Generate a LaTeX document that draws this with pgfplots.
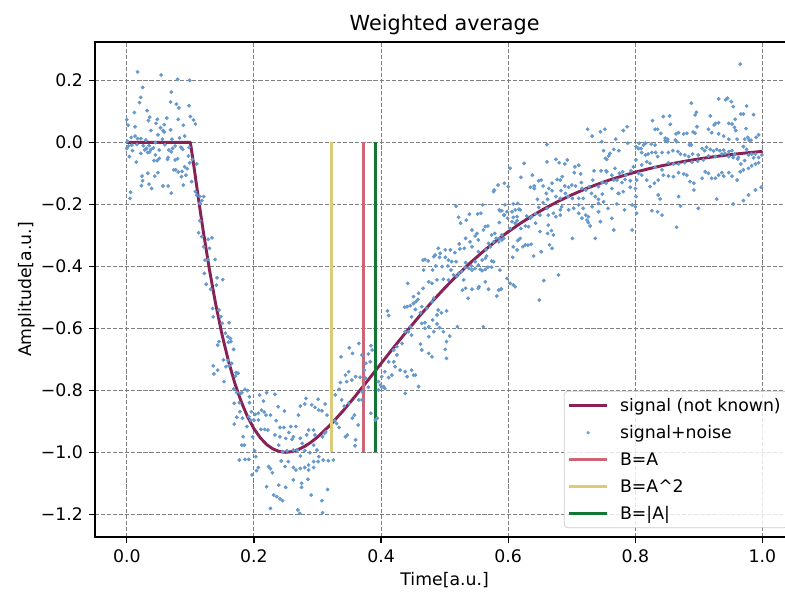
\documentclass[border=0pt]{standalone}
\usepackage{fontspec}
\setmainfont{DejaVu Sans}
\usepackage{pgfplots}
\pgfplotsset{compat=1.18}
\definecolor{wine}{HTML}{882255}
\definecolor{ptblue}{HTML}{6699CC}
\definecolor{rose}{HTML}{CC6677}
\definecolor{sand}{HTML}{DDCC77}
\definecolor{tgreen}{HTML}{117733}
\pgfplotsset{
  linelegend/.style={legend image code/.code={\draw[##1] (0pt,0pt) -- (22pt,0pt);}},
  marklegend/.style={legend image code/.code={\draw[mark repeat=2,mark phase=2,##1] plot coordinates {(0pt,0pt) (11pt,0pt) (22pt,0pt)};}},
}
\begin{document}
\begin{tikzpicture}
\begin{axis}[
  scale only axis, width=402.78bp, height=285.12bp,
  xmin=-0.05, xmax=1.05, ymin=-1.2732, ymax=0.3235,
  xtick={0,0.2,0.4,0.6,0.8,1}, xticklabels={0.0,0.2,0.4,0.6,0.8,1.0},
  ytick={-1.2,-1,-0.8,-0.6,-0.4,-0.2,0,0.2},
  yticklabels={−1.2,−1.0,−0.8,−0.6,−0.4,−0.2,0.0,0.2},
  tick align=outside, xtick pos=bottom, ytick pos=left,
  major tick length=3.5pt,
  tick style={black, line width=0.8pt},
  axis line style={black, line width=0.8pt},
  grid=major,
  grid style={black!50, line width=0.5pt, dash pattern=on 2.4pt off 1.1pt},
  ticklabel style={font=\fontsize{10}{12}\selectfont},
  title={Weighted average},
  every axis title shift=0pt,
  title style={font=\fontsize{12}{14}\selectfont, at={(axis description cs:0.5,1.0242)}, anchor=base},
  xlabel={Time[a.u.]},
  xlabel style={font=\fontsize{10}{12}\selectfont, at={(axis description cs:0.5,-0.0989)}, anchor=base},
  ylabel={Amplitude[a.u.]},
  ylabel style={font=\fontsize{10}{12}\selectfont, at={(axis description cs:-0.0901,0.5)}, anchor=base, rotate=0},
  legend cell align=left,
  legend style={at={(0.991,0.018)}, anchor=south east, draw=black!20, rounded corners=2pt,
    fill=white, fill opacity=0.8, draw opacity=1, text opacity=1,
    font=\fontsize{10}{12}\selectfont, inner xsep=2pt, inner ysep=1.5pt, row sep=1.6pt,
    /tikz/every odd column/.append style={column sep=4.6pt}},
]
\addlegendimage{wine, line width=1.7pt, linelegend}
\addlegendentry{\strut signal (not known)}
\addlegendimage{ptblue, only marks, mark=*, mark size=0.7pt, mark options={draw=none}, marklegend}
\addlegendentry{\strut signal+noise}
\addlegendimage{rose, line width=1.7pt, linelegend}
\addlegendentry{\strut B=A}
\addlegendimage{sand, line width=1.7pt, linelegend}
\addlegendentry{\strut B=A\textasciicircum 2}
\addlegendimage{tgreen, line width=1.7pt, linelegend}
\addlegendentry{\strut B=|A|}

% signal + noise
\addplot[forget plot, ptblue, only marks, mark=*, mark size=0.9pt, mark options={draw=none, fill=ptblue}] coordinates {
(0.017,0.227)(0.054,0.217)(0.080,0.203)(0.099,0.200)(0.025,0.177)(0.070,0.162)(0.022,0.145)(0.069,0.130)(0.020,0.128)(0.078,0.123)
(0.082,0.111)(0.098,0.118)(0.032,0.102)(0.012,0.096)(0.036,0.081)(0.048,0.074)(0.034,0.070)(0.063,0.078)(0.081,0.074)(0.100,0.083)
(0.000,0.073)(0.105,0.072)(0.046,0.061)(0.059,0.057)(0.108,0.059)(0.002,0.055)(0.013,0.050)(0.053,0.047)(0.089,0.055)(0.057,0.038)
(0.038,0.038)(0.069,0.040)(0.091,0.020)(0.059,0.033)(0.049,0.024)(0.007,0.016)(0.013,0.020)(0.017,0.012)(0.022,0.012)(0.030,0.007)
(0.001,0.003)(0.056,0.010)(0.083,0.014)(0.071,0.010)(0.003,-0.012)(0.008,-0.009)(0.016,-0.007)(0.026,-0.011)(0.035,-0.011)(0.045,-0.001)
(0.060,-0.008)(0.076,-0.012)(0.085,-0.016)(0.098,-0.016)(0.000,-0.020)(0.009,-0.027)(0.028,-0.025)(0.031,-0.020)(0.038,-0.023)(0.042,-0.018)
(0.051,-0.025)(0.066,-0.025)(0.072,-0.020)(0.086,-0.018)(0.088,-0.023)(0.070,-0.031)(0.036,-0.031)(0.033,-0.033)(0.022,-0.036)(0.004,-0.046)
(0.045,-0.041)(0.080,-0.053)(0.097,-0.044)(0.064,-0.055)(0.043,-0.059)(0.048,-0.059)(0.051,-0.052)(0.065,-0.049)(0.076,-0.057)(0.103,-0.055)
(0.015,-0.064)(0.099,-0.066)(0.110,-0.070)(0.091,-0.079)(0.095,-0.085)(0.087,-0.094)(0.074,-0.089)(0.077,-0.089)(0.081,-0.096)(0.049,-0.098)
(0.033,-0.100)(0.024,-0.109)(0.044,-0.109)(0.093,-0.106)(0.086,-0.111)(0.025,-0.124)(0.023,-0.140)(0.035,-0.135)(0.057,-0.141)(0.065,-0.141)
(0.039,-0.149)(0.006,-0.161)(0.005,-0.181)(0.070,-0.164)
(0.089,-0.138)(0.102,-0.127)(0.108,-0.159)(0.110,-0.170)(0.115,-0.175)(0.121,-0.175)(0.118,-0.188)(0.115,-0.197)(0.115,-0.253)(0.113,-0.292)
(0.118,-0.304)(0.128,-0.313)(0.134,-0.308)(0.121,-0.337)(0.130,-0.342)(0.123,-0.380)(0.128,-0.378)(0.139,-0.378)(0.122,-0.423)(0.125,-0.458)
(0.132,-0.474)(0.142,-0.437)(0.151,-0.443)(0.141,-0.461)(0.135,-0.536)(0.136,-0.563)(0.145,-0.541)(0.148,-0.563)(0.150,-0.584)(0.161,-0.582)
(0.155,-0.616)(0.159,-0.627)(0.163,-0.633)(0.164,-0.643)(0.145,-0.643)(0.143,-0.654)(0.160,-0.645)(0.168,-0.668)(0.152,-0.702)(0.159,-0.704)
(0.165,-0.713)(0.161,-0.721)(0.156,-0.724)(0.136,-0.721)(0.143,-0.735)(0.137,-0.747)(0.172,-0.743)(0.175,-0.745)(0.153,-0.772)(0.171,-0.754)
(0.168,-0.796)(0.173,-0.807)(0.181,-0.808)(0.186,-0.797)(0.190,-0.801)(0.193,-0.821)(0.179,-0.810)(0.169,-0.842)(0.177,-0.840)(0.173,-0.887)
(0.169,-0.909)(0.178,-0.869)(0.182,-0.890)(0.193,-0.840)(0.196,-0.869)(0.195,-0.896)(0.202,-0.878)(0.207,-0.874)(0.209,-0.815)(0.220,-0.808)
(0.233,-0.813)(0.215,-0.835)(0.238,-0.853)(0.248,-0.867)(0.212,-0.864)(0.216,-0.870)(0.219,-0.880)(0.226,-0.880)(0.192,-0.885)(0.200,-0.896)
(0.207,-0.896)(0.189,-0.917)(0.211,-0.926)(0.217,-0.926)(0.222,-0.928)(0.198,-0.950)(0.183,-0.950)(0.181,-0.977)(0.185,-0.977)(0.177,-1.025)
(0.186,-1.023)(0.192,-1.023)(0.201,-0.995)(0.203,-1.014)(0.207,-1.049)(0.204,-1.059)(0.197,-1.073)(0.223,-1.046)(0.226,-1.053)(0.229,-1.066)
(0.235,-0.898)(0.241,-0.920)(0.247,-0.920)(0.258,-0.917)(0.266,-0.917)(0.241,-0.950)(0.250,-0.955)(0.262,-0.950)(0.255,-0.936)(0.260,-0.958)
(0.233,-0.944)(0.239,-0.977)(0.245,-0.998)(0.252,-0.995)(0.262,-0.993)(0.243,-1.028)(0.254,-1.030)(0.249,-1.046)(0.262,-1.049)(0.266,-1.057)
(0.220,-1.111)(0.239,-1.106)(0.250,-1.113)(0.262,-1.089)(0.231,-1.138)(0.236,-1.143)(0.241,-1.150)(0.245,-1.156)(0.226,-1.181)(0.269,-1.186)
(0.270,-0.880)(0.268,-0.993)
(0.273,-0.851)(0.280,-0.844)(0.282,-0.826)(0.291,-0.847)(0.296,-0.855)(0.301,-0.829)(0.302,-0.864)(0.307,-0.866)(0.312,-0.844)(0.315,-0.880)
(0.311,-0.939)(0.313,-0.934)(0.308,-0.950)(0.296,-0.944)(0.294,-0.928)(0.286,-0.928)(0.283,-0.944)(0.273,-0.955)(0.276,-0.971)(0.294,-0.977)
(0.299,-0.993)(0.280,-0.995)(0.288,-1.001)(0.273,-1.012)(0.302,-1.014)(0.309,-1.025)(0.317,-1.027)(0.325,-1.025)(0.294,-1.030)(0.286,-1.041)
(0.280,-1.049)(0.273,-1.052)(0.294,-1.049)(0.275,-1.100)(0.275,-1.113)(0.285,-1.087)(0.301,-1.030)(0.316,-1.120)(0.290,-1.138)(0.307,-1.156)
(0.308,-1.195)(0.272,-1.197)(0.286,-1.057)
(0.410,-0.544)(0.412,-0.559)(0.365,-0.649)(0.350,-0.663)(0.355,-0.681)(0.337,-0.692)(0.370,-0.686)(0.384,-0.656)(0.386,-0.670)(0.380,-0.683)
(0.383,-0.708)(0.376,-0.713)(0.374,-0.735)(0.349,-0.740)(0.354,-0.767)(0.360,-0.756)(0.367,-0.758)(0.344,-0.751)(0.346,-0.772)(0.336,-0.775)
(0.334,-0.797)(0.338,-0.831)(0.342,-0.851)(0.349,-0.842)(0.355,-0.890)(0.358,-0.880)(0.364,-0.912)(0.344,-0.950)(0.347,-0.944)(0.360,-0.960)
(0.359,-0.979)(0.334,-0.920)(0.438,-0.611)(0.443,-0.611)(0.433,-0.649)(0.425,-0.659)(0.420,-0.670)(0.425,-0.686)(0.412,-0.708)(0.420,-0.708)
(0.422,-0.724)(0.430,-0.735)(0.438,-0.740)(0.441,-0.756)(0.406,-0.740)(0.401,-0.756)(0.396,-0.772)(0.412,-0.759)(0.417,-0.751)(0.399,-0.783)
(0.401,-0.790)(0.404,-0.788)(0.406,-0.794)(0.396,-0.799)(0.438,-0.810)(0.384,-0.874)(0.391,-0.896)(0.394,-0.890)(0.380,-0.790)(0.370,-0.804)
(0.376,-0.761)(0.365,-0.831)(0.370,-0.831)(0.330,-0.907)(0.328,-0.815)(0.327,-0.898)
(0.584,-0.138)(0.577,-0.159)(0.578,-0.154)(0.594,-0.132)(0.600,-0.143)(0.518,-0.206)(0.560,-0.202)(0.522,-0.242)(0.525,-0.261)(0.539,-0.232)
(0.534,-0.251)(0.552,-0.231)(0.557,-0.229)(0.608,-0.199)(0.615,-0.197)(0.587,-0.221)(0.590,-0.221)(0.593,-0.235)(0.595,-0.202)(0.611,-0.218)
(0.614,-0.240)(0.606,-0.256)(0.611,-0.261)(0.603,-0.278)(0.586,-0.259)(0.561,-0.283)(0.543,-0.283)(0.551,-0.294)(0.564,-0.272)(0.568,-0.270)
(0.548,-0.302)(0.553,-0.315)(0.540,-0.321)(0.533,-0.310)(0.574,-0.299)(0.579,-0.294)(0.581,-0.310)(0.585,-0.321)(0.590,-0.315)(0.593,-0.310)
(0.577,-0.321)(0.569,-0.326)(0.572,-0.337)(0.565,-0.347)(0.553,-0.353)(0.543,-0.337)(0.531,-0.342)(0.524,-0.344)(0.523,-0.328)(0.516,-0.356)
(0.509,-0.347)(0.501,-0.347)(0.490,-0.342)(0.493,-0.358)(0.485,-0.364)(0.492,-0.371)(0.501,-0.371)(0.506,-0.380)(0.511,-0.385)(0.518,-0.385)
(0.483,-0.369)(0.466,-0.380)(0.469,-0.378)(0.467,-0.412)(0.474,-0.383)(0.481,-0.412)(0.486,-0.399)(0.496,-0.401)(0.505,-0.399)(0.510,-0.412)
(0.514,-0.428)(0.519,-0.433)(0.522,-0.423)(0.527,-0.417)(0.532,-0.403)(0.538,-0.407)(0.543,-0.412)(0.548,-0.407)(0.553,-0.396)(0.556,-0.410)
(0.559,-0.414)(0.564,-0.410)(0.568,-0.403)(0.574,-0.403)(0.577,-0.385)(0.574,-0.383)(0.559,-0.380)(0.564,-0.374)(0.566,-0.367)(0.548,-0.385)
(0.542,-0.399)(0.533,-0.388)(0.530,-0.444)(0.528,-0.477)(0.533,-0.471)(0.537,-0.503)(0.543,-0.474)(0.553,-0.471)(0.554,-0.466)(0.564,-0.450)
(0.569,-0.474)(0.585,-0.477)(0.589,-0.473)(0.598,-0.439)(0.603,-0.455)(0.608,-0.460)(0.611,-0.466)(0.607,-0.371)(0.614,-0.347)(0.582,-0.496)
(0.561,-0.595)(0.520,-0.595)(0.506,-0.444)(0.498,-0.442)(0.488,-0.444)(0.480,-0.455)(0.475,-0.450)(0.466,-0.471)(0.459,-0.487)(0.458,-0.507)
(0.451,-0.498)(0.455,-0.514)(0.451,-0.520)(0.442,-0.455)(0.483,-0.503)(0.480,-0.514)(0.472,-0.536)(0.464,-0.530)(0.462,-0.550)(0.454,-0.539)
(0.448,-0.563)(0.441,-0.530)(0.446,-0.527)(0.437,-0.532)(0.490,-0.541)(0.495,-0.550)(0.503,-0.544)(0.488,-0.557)(0.481,-0.573)(0.488,-0.586)
(0.469,-0.582)(0.475,-0.595)(0.464,-0.584)(0.492,-0.598)(0.498,-0.611)(0.483,-0.611)(0.475,-0.627)(0.469,-0.600)(0.508,-0.625)(0.503,-0.643)
(0.501,-0.668)(0.503,-0.697)(0.462,-0.651)(0.464,-0.670)(0.475,-0.681)(0.480,-0.692)(0.446,-0.595)(0.448,-0.622)(0.451,-0.751)(0.454,-0.751)
(0.459,-0.788)(0.448,-0.735)
(0.725,0.042)(0.732,0.020)(0.745,0.034)(0.752,0.042)(0.747,0.002)(0.769,0.010)(0.781,0.038)(0.787,0.050)(0.788,-0.003)(0.801,-0.014)
(0.661,-0.007)(0.625,-0.068)(0.603,-0.084)(0.675,-0.055)(0.680,-0.066)(0.693,-0.057)(0.689,-0.070)(0.661,-0.063)(0.705,-0.079)(0.711,-0.074)
(0.704,-0.098)(0.714,-0.102)(0.735,-0.092)(0.746,-0.092)(0.754,-0.092)(0.755,-0.095)(0.768,-0.084)(0.775,-0.100)(0.763,-0.106)(0.780,-0.095)
(0.785,-0.106)(0.793,-0.092)(0.797,-0.079)(0.801,-0.057)(0.750,-0.027)(0.758,-0.044)(0.755,-0.055)(0.766,-0.023)(0.774,-0.027)(0.760,-0.036)
(0.753,-0.052)(0.638,-0.106)(0.648,-0.124)(0.655,-0.141)(0.641,-0.141)(0.641,-0.149)(0.635,-0.145)(0.652,-0.122)(0.669,-0.132)(0.677,-0.120)
(0.682,-0.122)(0.685,-0.111)(0.689,-0.141)(0.695,-0.145)(0.700,-0.138)(0.706,-0.141)(0.715,-0.130)(0.722,-0.154)(0.716,-0.149)(0.727,-0.143)
(0.733,-0.122)(0.742,-0.143)(0.748,-0.130)(0.754,-0.132)(0.766,-0.122)(0.771,-0.122)(0.779,-0.130)(0.784,-0.120)(0.792,-0.124)(0.620,-0.113)
(0.660,-0.165)(0.664,-0.149)(0.669,-0.156)(0.662,-0.184)(0.675,-0.175)(0.682,-0.181)(0.694,-0.175)(0.701,-0.181)(0.711,-0.181)(0.718,-0.181)
(0.683,-0.156)(0.690,-0.165)(0.731,-0.165)(0.737,-0.175)(0.742,-0.184)(0.748,-0.167)(0.763,-0.149)(0.774,-0.165)(0.781,-0.159)(0.792,-0.145)
(0.800,-0.149)(0.802,-0.122)(0.801,-0.175)(0.646,-0.184)(0.655,-0.195)(0.648,-0.210)(0.661,-0.213)(0.682,-0.218)(0.684,-0.208)(0.695,-0.218)
(0.703,-0.213)(0.711,-0.202)(0.718,-0.213)(0.732,-0.208)(0.742,-0.197)(0.750,-0.192)(0.771,-0.199)(0.783,-0.218)(0.795,-0.202)(0.800,-0.208)
(0.617,-0.216)(0.619,-0.218)(0.606,-0.224)(0.598,-0.224)(0.586,-0.218)(0.594,-0.235)(0.599,-0.245)(0.608,-0.242)(0.614,-0.253)(0.629,-0.238)
(0.637,-0.240)(0.635,-0.245)(0.643,-0.231)(0.650,-0.235)(0.663,-0.235)(0.671,-0.229)(0.675,-0.240)(0.682,-0.235)(0.711,-0.229)(0.722,-0.235)
(0.726,-0.240)(0.742,-0.224)(0.757,-0.213)(0.745,-0.256)(0.729,-0.270)(0.726,-0.259)(0.716,-0.245)(0.724,-0.251)(0.663,-0.267)(0.662,-0.294)
(0.668,-0.285)(0.671,-0.299)(0.650,-0.288)(0.643,-0.261)(0.632,-0.272)(0.627,-0.270)(0.620,-0.278)(0.627,-0.331)(0.631,-0.332)(0.623,-0.337)
(0.636,-0.329)(0.616,-0.315)(0.615,-0.317)(0.619,-0.310)(0.608,-0.337)(0.590,-0.299)(0.586,-0.310)(0.640,-0.367)(0.652,-0.353)(0.665,-0.331)
(0.669,-0.342)(0.701,-0.310)(0.737,-0.310)(0.763,-0.245)(0.766,-0.283)(0.773,-0.165)(0.795,-0.283)(0.802,-0.229)(0.679,-0.428)(0.656,-0.446)
(0.649,-0.509)(0.589,-0.474)(0.587,-0.412)
(0.931,0.140)(0.942,0.137)(0.945,0.142)(0.951,0.131)(0.954,0.115)(0.975,0.117)(0.888,0.126)(0.896,0.097)(0.894,0.088)(0.918,0.085)
(0.957,0.074)(0.966,0.091)(0.970,0.091)(0.986,0.089)(0.844,0.083)(0.854,0.085)(0.827,0.070)(0.855,0.058)(0.897,0.050)(0.891,0.033)
(0.894,0.029)(0.926,0.061)(0.931,0.063)(0.924,0.056)(0.947,0.061)(0.952,0.059)(0.956,0.048)(0.958,0.038)(0.974,0.044)(0.831,0.042)
(0.835,0.042)(0.840,0.029)(0.847,0.013)(0.851,0.010)(0.864,0.027)(0.868,0.031)(0.876,0.027)(0.881,0.029)(0.885,-0.009)(0.888,-0.009)
(0.886,-0.006)(0.915,0.042)(0.920,0.031)(0.931,0.027)(0.939,0.020)(0.947,0.010)(0.960,0.010)(0.972,0.010)(0.977,0.016)(0.979,0.007)
(0.982,0.007)(0.990,0.016)(0.994,0.024)(0.863,0.007)(0.865,0.002)(0.851,0.002)(0.847,0.005)(0.831,-0.009)(0.825,-0.006)(0.816,-0.003)
(0.813,-0.009)(0.806,-0.003)(0.805,-0.020)(0.809,-0.020)(0.810,-0.033)(0.816,-0.041)(0.820,-0.038)(0.826,-0.033)(0.832,-0.033)(0.835,-0.046)
(0.842,-0.033)(0.852,-0.033)(0.859,-0.027)(0.867,-0.030)(0.871,-0.038)(0.878,-0.041)(0.884,-0.046)(0.890,-0.038)(0.899,-0.041)(0.905,-0.020)
(0.909,-0.027)(0.912,-0.016)(0.918,-0.023)(0.923,-0.028)(0.928,-0.023)(0.933,-0.027)(0.939,-0.025)(0.941,-0.036)(0.947,-0.030)(0.952,-0.027)
(0.956,-0.038)(0.961,-0.054)(0.970,-0.014)(0.975,-0.023)(0.983,-0.038)(0.989,-0.038)(0.994,-0.049)(0.999,-0.041)(0.986,-0.050)(0.978,-0.041)
(0.972,-0.059)(0.966,-0.070)(0.962,-0.049)(0.954,-0.049)(0.947,-0.046)(0.936,-0.038)(0.926,-0.046)(0.915,-0.044)(0.907,-0.057)(0.898,-0.061)
(0.889,-0.064)(0.878,-0.066)(0.868,-0.070)(0.860,-0.070)(0.852,-0.066)(0.842,-0.089)(0.831,-0.081)(0.823,-0.068)(0.818,-0.063)(0.810,-0.073)
(0.805,-0.100)(0.810,-0.106)(0.818,-0.122)(0.823,-0.143)(0.830,-0.132)(0.836,-0.122)(0.844,-0.106)(0.852,-0.109)(0.860,-0.111)(0.868,-0.098)
(0.876,-0.102)(0.881,-0.106)(0.886,-0.127)(0.892,-0.132)(0.905,-0.116)(0.910,-0.095)(0.915,-0.100)(0.920,-0.116)(0.926,-0.116)(0.931,-0.106)
(0.936,-0.098)(0.939,-0.109)(0.947,-0.098)(0.952,-0.109)(0.960,-0.122)(0.965,-0.095)(0.970,-0.089)(0.978,-0.084)(0.983,-0.076)(0.989,-0.070)
(0.994,-0.066)(0.892,-0.154)(0.928,-0.183)(0.954,-0.199)(0.970,-0.188)(0.978,-0.170)(0.989,-0.154)(0.998,-0.145)(0.868,-0.175)(0.836,-0.170)
(0.839,-0.183)(0.871,-0.206)(0.899,-0.213)(0.826,-0.221)(0.835,-0.224)(0.842,-0.235)(0.865,-0.274)(0.965,0.252)
};

% signal (not known)
\addplot[forget plot, wine, line width=1.7pt, line join=round] coordinates {
(0,0)(0.1,0)(0.105,-0.0687)(0.11,-0.1420)(0.115,-0.2138)(0.12,-0.2828)(0.13,-0.4105)(0.14,-0.5235)(0.15,-0.6218)(0.16,-0.7062)
(0.17,-0.7775)(0.18,-0.8369)(0.19,-0.8853)(0.20,-0.9237)(0.21,-0.9532)(0.22,-0.9749)(0.23,-0.9893)(0.24,-0.9974)(0.25,-1)(0.26,-0.9977)
(0.27,-0.9911)(0.28,-0.9807)(0.29,-0.9672)(0.30,-0.9510)(0.32,-0.9121)(0.34,-0.8668)(0.36,-0.8174)(0.38,-0.7659)(0.40,-0.7135)(0.42,-0.6615)
(0.44,-0.6107)(0.46,-0.5616)(0.48,-0.5147)(0.50,-0.4703)(0.52,-0.4285)(0.54,-0.3895)(0.56,-0.3532)(0.58,-0.3196)(0.60,-0.2887)(0.62,-0.2603)
(0.64,-0.2343)(0.66,-0.2106)(0.68,-0.1890)(0.70,-0.1695)(0.72,-0.1517)(0.74,-0.1357)(0.76,-0.1212)(0.78,-0.1082)(0.80,-0.0964)(0.82,-0.0859)
(0.84,-0.0765)(0.86,-0.0680)(0.88,-0.0604)(0.90,-0.0536)(0.92,-0.0476)(0.94,-0.0422)(0.96,-0.0374)(0.98,-0.0331)(1.00,-0.0293)
};

% B=A
\addplot[forget plot, rose, line width=1.7pt] coordinates {(0.3723,0) (0.3723,-1)};
% B=A^2
\addplot[forget plot, sand, line width=1.7pt] coordinates {(0.3215,0) (0.3215,-1)};
% B=|A|
\addplot[forget plot, tgreen, line width=1.7pt] coordinates {(0.3907,0) (0.3907,-1)};
\end{axis}
\pgfresetboundingbox
\path[use as bounding box] ([xshift=-54.72bp,yshift=-31.68bp]current axis.south west) rectangle ++(452.16bp,340.99bp);
\end{tikzpicture}
\end{document}
